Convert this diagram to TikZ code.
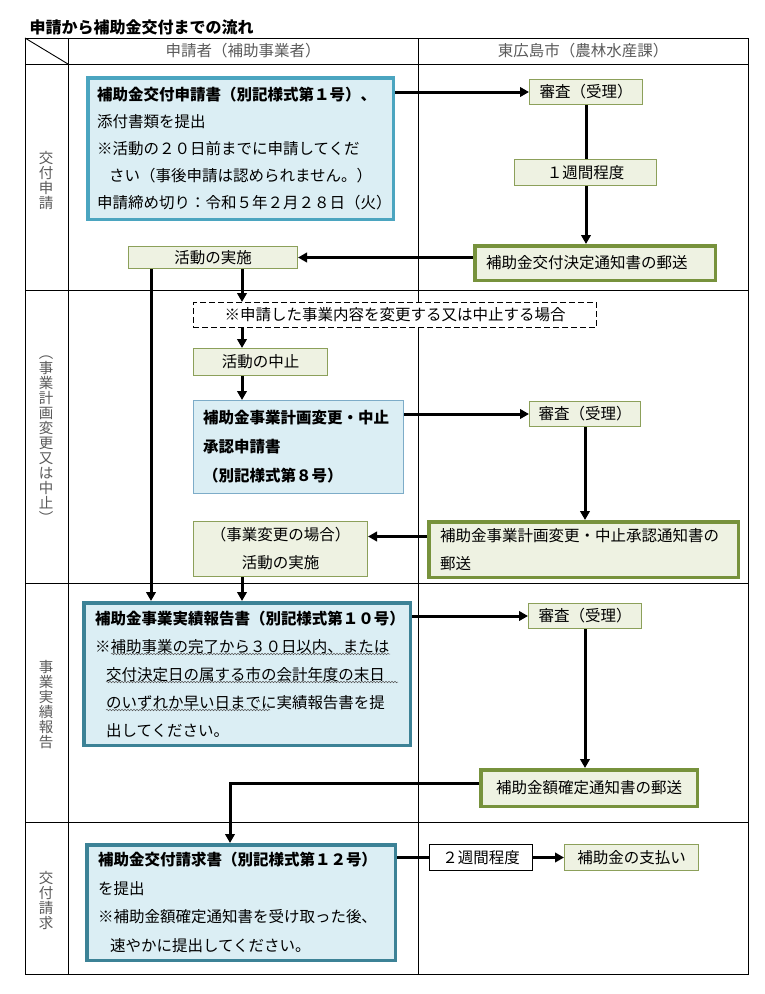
\documentclass[tikz,border=0pt]{standalone}
\usepackage{fontspec}
\setmainfont{Noto Sans CJK JP}
\usetikzlibrary{arrows.meta,decorations.pathmorphing}
\definecolor{bluefill}{RGB}{219,238,244}
\definecolor{tealA}{RGB}{75,165,192}
\definecolor{tealB}{RGB}{60,130,150}
\definecolor{bluethin}{RGB}{125,172,200}
\definecolor{beige}{RGB}{238,242,226}
\definecolor{olivethin}{RGB}{140,160,90}
\definecolor{olivethick}{RGB}{119,146,60}
\definecolor{lanegray}{RGB}{90,90,90}

\begin{document}
\begin{tikzpicture}[x=1pt,y=-1pt]
	\tikzset{
		tbl/.style={line width=0.9pt},
		title/.style={anchor=west, font=\bfseries\fontsize{16}{16}\selectfont},
		head/.style={text=lanegray, font=\fontsize{15.5}{15.5}\selectfont},
		lane/.style={align=center, text=lanegray, font=\fontsize{14.5}{15}\selectfont},
		box/.style={anchor=north west, inner sep=0pt, align=left, font=\fontsize{15.5}{27}\selectfont},
		proc/.style={box, align=center, draw=olivethin, line width=0.8pt, fill=beige},
		notice/.style={box, draw=olivethick, line width=3.5pt, fill=beige},
		dashbox/.style={box, align=center, draw=black, dash pattern=on 6pt off 3pt, line width=0.8pt, fill=white},
		plainbox/.style={box, align=center, draw=black, line width=0.8pt, fill=white},
		docA/.style={box, draw=tealA, line width=3.5pt, fill=bluefill},
		docB/.style={box, draw=tealB, line width=3.5pt, fill=bluefill},
		docthin/.style={box, draw=bluethin, line width=0.8pt, fill=bluefill},
		arr/.style={line width=3pt, -{Triangle[length=9pt,width=9.5pt]}},
		ln/.style={line width=3pt},
		wavy/.style={draw=black!65, line width=0.5pt, decorate, decoration={snake, segment length=3pt, amplitude=0.8pt}},
	}
	\useasboundingbox (0,0) rectangle (765,994);
	
	% The table first.
	\draw[tbl] (25,38) rectangle (748,974);
	\draw[tbl] (68,38) -- (68,974);
	\draw[tbl] (418,38) -- (418,974);
	\draw[tbl] (25,64) -- (748,64);
	\draw[tbl] (25,290) -- (748,290);
	\draw[tbl] (25,583) -- (748,583);
	\draw[tbl] (25,822) -- (748,822);
	\draw[tbl] (25,38) -- (68,64);
	
	\node[title] (ttl) at (26,27) {申請から補助金交付までの流れ};
	\node[head] (h1) at (243,51) {申請者（補助事業者）};
	\node[head] (h2) at (583,51) {東広島市（農林水産課）};
	
	% Lane labels, one character per line.
	\node[lane] (l1) at (46,180) {交\\付\\申\\請};
	\node[lane] (l2) at (46,440) {︵\\事\\業\\計\\画\\変\\更\\又\\は\\中\\止\\︶};
	\node[lane] (l3) at (46,705) {事\\業\\実\\績\\報\\告};
	\node[lane] (l4) at (46,900) {交\\付\\請\\求};
	
	\coordinate (c1) at (151,0); % left column of arrows
	\coordinate (c2) at (242,0); % right column of arrows
	\coordinate (c3) at (230,0); % arrow into the claim
	
	% Application.
	\node[docA, minimum width=305.5pt, minimum height=141.5pt, text width=287pt] (app) at (86,76)
		{\textbf{補助金交付申請書（別記様式第１号）、}\\添付書類を提出\\※活動の２０日前までに申請してくだ\\\hspace*{12pt}さい（事後申請は認められません。）\\申請締め切り：令和５年２月２８日（火）};
	\node[proc, minimum width=113.2pt, minimum height=25.2pt] (rev1) at (529,79) {審査（受理）};
	\node[notice, minimum width=240.5pt, minimum height=34.5pt, text width=218pt] (dec) at (473,244) {補助金交付決定通知書の郵送};
	\draw[arr] (rev1.south) -- (rev1.south |- dec.north);
	\node[proc, minimum width=142.2pt, minimum height=26.2pt] (wk1) at (514,159) {１週間程度};
	\node[proc, minimum width=169.2pt, minimum height=22.2pt] (act1) at (128,246) {活動の実施};
	\draw[arr] (app.east |- rev1.west) -- (rev1.west);
	\draw[arr] (dec.west |- act1.east) -- (act1.east);
	
	% Change or stop.
	\node[dashbox, minimum width=403.2pt, minimum height=25.2pt] (note) at (193,302) {※申請した事業内容を変更する又は中止する場合};
	\draw[arr] (act1.south -| c2) -- (note.north -| c2);
	\node[proc, minimum width=134.2pt, minimum height=27.2pt] (stop) at (193,348) {活動の中止};
	\draw[arr] (note.south -| c2) -- (stop.north -| c2);
	\node[docthin, minimum width=210.2pt, minimum height=93.2pt, text width=191pt, font=\bfseries\fontsize{15.5}{29}\selectfont] (chgreq) at (193,400)
		{補助金事業計画変更・中止\\承認申請書\\（別記様式第８号）};
	\draw[arr] (stop.south -| c2) -- (chgreq.north -| c2);
	\node[proc, minimum width=111.2pt, minimum height=25.2pt] (rev2) at (529,401) {審査（受理）};
	\draw[arr] (chgreq.east |- rev2.west) -- (rev2.west);
	\node[notice, minimum width=309.5pt, minimum height=55.5pt, text width=287pt, font=\fontsize{15.5}{28}\selectfont] (chgok) at (427,520)
		{補助金事業計画変更・中止承認通知書の\\郵送};
	\draw[arr] (rev2.south) -- (rev2.south |- chgok.north);
	\node[proc, minimum width=174.2pt, minimum height=55.2pt, font=\fontsize{15.5}{28}\selectfont] (act2) at (193,521) {（事業変更の場合）\\活動の実施};
	\draw[arr] ([yshift=13pt]chgok.west) -- ([yshift=13pt]chgok.west -| act2.east);
	
	% Report.
	\node[docB, minimum width=326.5pt, minimum height=142.5pt, text width=304pt, font=\fontsize{15.5}{28}\selectfont] (rep) at (82,601)
		{\textbf{補助金事業実績報告書（別記様式第１０号）}\\※補助事業の完了から３０日以内、または\\\hspace*{11pt}交付決定日の属する市の会計年度の末日\\\hspace*{11pt}のいずれか早い日までに実績報告書を提\\\hspace*{11pt}出してください。};
	\draw[arr] (act1.south -| c1) -- (rep.north -| c1);
	\draw[arr] (act2.south -| c2) -- (rep.north -| c2);
	\draw[wavy] (111,654) -- (390,654);
	\draw[wavy] (106,682) -- (398,682);
	\draw[wavy] (106,710) -- (270,710);
	\node[proc, minimum width=113.2pt, minimum height=25.2pt] (rev3) at (528,603) {審査（受理）};
	\draw[arr] (rep.east |- rev3.west) -- (rev3.west);
	\node[notice, minimum width=216.5pt, minimum height=36.5pt] (fix) at (479,768) {補助金額確定通知書の郵送};
	\draw[arr] (rev3.south) -- (rev3.south |- fix.north);
	
	% Claim.
	\node[docB, minimum width=308.5pt, minimum height=115.5pt, text width=286pt, font=\fontsize{15.5}{28.7}\selectfont] (claim) at (85,843)
		{\textbf{補助金交付請求書（別記様式第１２号）}\\を提出\\※補助金額確定通知書を受け取った後、\\\hspace*{12pt}速やかに提出してください。};
	\draw[arr] ([yshift=5pt]fix.west) -| (claim.north -| c3);
	\node[plainbox, minimum width=103.2pt, minimum height=26.2pt] (wk2) at (429,844) {２週間程度};
	\draw[ln] (claim.east |- wk2.west) -- (wk2.west);
	\node[proc, minimum width=134.2pt, minimum height=26.2pt] (pay) at (564,844) {補助金の支払い};
	\draw[arr] (wk2.east) -- (pay.west);
\end{tikzpicture}
\end{document}
